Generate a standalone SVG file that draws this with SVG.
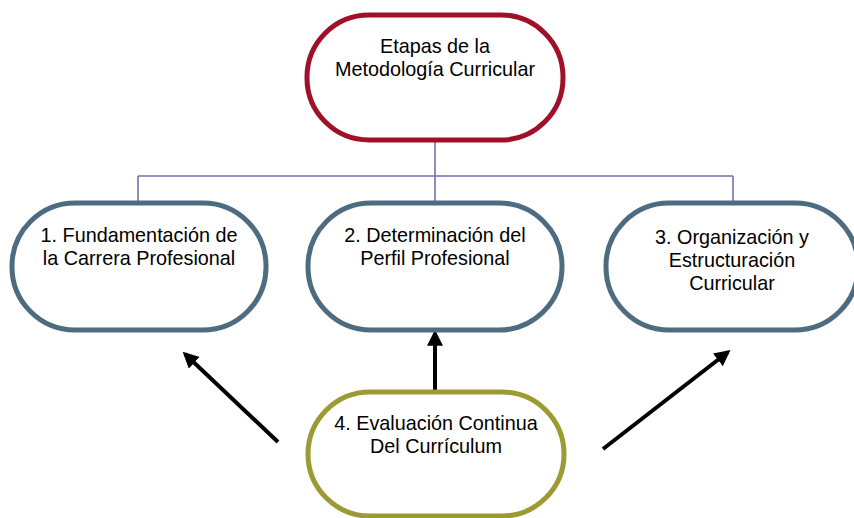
<svg xmlns="http://www.w3.org/2000/svg" width="854" height="518" viewBox="0 0 854 518">
<defs>
<style>
.n{fill:#fff;stroke-width:5}
.red{stroke:#A0102A}
.blue{stroke:#4E6C80}
.olive{stroke:#9B9A33}
text{font-family:"Liberation Sans",Arial,sans-serif;font-size:19.8px;fill:#000;text-anchor:middle}
.c{fill:none;stroke:#7373B0;stroke-width:1.6}
.a{fill:none;stroke:#000;stroke-width:4}
</style>
<marker id="ah" viewBox="0 0 10 10" refX="8" refY="5" markerWidth="4" markerHeight="4" markerUnits="strokeWidth" orient="auto">
<path d="M0,0 L10,5 L0,10 z" fill="#000"/>
</marker>
</defs>
<rect width="854" height="518" fill="#fff"/>
<g id="connectors">
<path class="c" d="M435,140 V176 M138,176 H733 M138,176 V203 M435,176 V203 M733,176 V203"/>
<line class="a" x1="435" y1="390" x2="435" y2="333" marker-end="url(#ah)"/>
<line class="a" x1="278" y1="442" x2="185" y2="354" marker-end="url(#ah)"/>
<line class="a" x1="603" y1="449" x2="728" y2="352" marker-end="url(#ah)"/>
</g>
<g id="n0">
<rect class="n red" x="307" y="15" width="256" height="125" rx="62"/>
<text x="435" y="53">Etapas de la</text>
<text x="435" y="76">Metodología Curricular</text>
</g>
<g id="n1">
<rect class="n blue" x="12" y="203" width="254" height="127" rx="63"/>
<text x="139" y="242">1. Fundamentación de</text>
<text x="139" y="265">la Carrera Profesional</text>
</g>
<g id="n2">
<rect class="n blue" x="308" y="203" width="254" height="127" rx="63"/>
<text x="435" y="242">2. Determinación del</text>
<text x="435" y="265">Perfil Profesional</text>
</g>
<g id="n3">
<rect class="n blue" x="606" y="203" width="252" height="127" rx="63"/>
<text x="732" y="244">3. Organización y</text>
<text x="732" y="267">Estructuración</text>
<text x="732" y="290">Curricular</text>
</g>
<g id="n4">
<rect class="n olive" x="308" y="392" width="256" height="124" rx="62"/>
<text x="436" y="430">4. Evaluación Continua</text>
<text x="436" y="453">Del Currículum</text>
</g>
</svg>
